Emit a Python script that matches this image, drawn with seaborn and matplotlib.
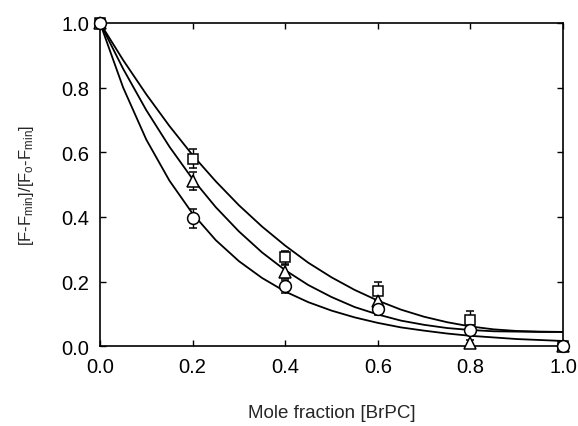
import numpy as np
import pandas as pd
import matplotlib
matplotlib.use("Agg")
import matplotlib.pyplot as plt
import seaborn as sns

# measured points (mole fraction BrPC)
x_pts = [0.0, 0.2, 0.4, 0.6, 0.8, 1.0]
sq_y = [1.0, 0.58, 0.275, 0.17, 0.08, 0.0]
sq_err = [0.0, 0.03, 0.02, 0.03, 0.03, 0.0]
tri_y = [1.0, 0.51, 0.23, 0.14, 0.01, 0.0]
tri_err = [0.0, 0.028, 0.02, 0.02, 0.01, 0.0]
circ_y = [1.0, 0.395, 0.185, 0.115, 0.05, 0.0]
circ_err = [0.0, 0.03, 0.02, 0.02, 0.01, 0.0]

# fitted curves, every 0.05
x_fit = [0.0, 0.05, 0.10, 0.15, 0.20, 0.25, 0.30, 0.35, 0.40, 0.45, 0.50,
         0.55, 0.60, 0.65, 0.70, 0.75, 0.80, 0.85, 0.90, 0.95, 1.0]
sq_fit = [1.0, 0.885, 0.779, 0.681, 0.591, 0.510, 0.436, 0.370, 0.311, 0.258, 0.213,
          0.174, 0.141, 0.113, 0.091, 0.074, 0.061, 0.052, 0.047, 0.045, 0.044]
tri_fit = [1.0, 0.858, 0.730, 0.617, 0.517, 0.430, 0.355, 0.290, 0.235, 0.189, 0.152,
           0.121, 0.098, 0.079, 0.066, 0.056, 0.050, 0.046, 0.045, 0.044, 0.044]
circ_fit = [1.0, 0.800, 0.639, 0.512, 0.410, 0.328, 0.263, 0.211, 0.169, 0.136, 0.110,
            0.089, 0.072, 0.058, 0.048, 0.039, 0.032, 0.027, 0.022, 0.019, 0.016]

sns.set_theme(style="ticks")
plt.rcParams["font.family"] = ["Liberation Sans", "DejaVu Sans"]
plt.rcParams["mathtext.fontset"] = "custom"
plt.rcParams["mathtext.rm"] = "Liberation Sans"
plt.rcParams["mathtext.it"] = "Liberation Sans"

fig = plt.figure(figsize=(5.78, 4.27), dpi=100)
ax = fig.add_axes([0.173, 0.187, 0.801, 0.757])

fits = pd.DataFrame({"x": x_fit * 3,
                     "y": sq_fit + tri_fit + circ_fit,
                     "set": ["sq"] * len(x_fit) + ["tri"] * len(x_fit) + ["circ"] * len(x_fit)})
sns.lineplot(data=fits, x="x", y="y", units="set", estimator=None, color="black",
             linewidth=1.3, ax=ax, legend=False)

for y, e, m, ms in [(sq_y, sq_err, "s", 7.5), (tri_y, tri_err, "^", 8), (circ_y, circ_err, "o", 8.5)]:
    ax.errorbar(x_pts, y, yerr=e, fmt=m, ms=ms, mfc="white", mec="black", mew=1.1,
                ecolor="black", elinewidth=1, capsize=3, capthick=1, clip_on=False, zorder=3)

ax.set_xlim(0, 1)
ax.set_ylim(0, 1)
ax.set_xticks([0.0, 0.2, 0.4, 0.6, 0.8, 1.0])
ax.set_yticks([0.0, 0.2, 0.4, 0.6, 0.8, 1.0])
ax.xaxis.set_major_formatter(matplotlib.ticker.FormatStrFormatter("%.1f"))
ax.yaxis.set_major_formatter(matplotlib.ticker.FormatStrFormatter("%.1f"))
ax.tick_params(direction="in", length=4, width=1, top=True, right=True,
               labelsize=14.5, colors="black", pad=8)
for s in ax.spines.values():
    s.set_linewidth(1.2)
    s.set_color("black")

ax.set_xlabel("Mole fraction [BrPC]", fontsize=13.5, labelpad=20)
ax.set_ylabel(r"[F-F$_{\mathrm{min}}$]/[F$_{\mathrm{o}}$-F$_{\mathrm{min}}$]", fontsize=12, labelpad=18)

fig.savefig("out.png", dpi=100)
